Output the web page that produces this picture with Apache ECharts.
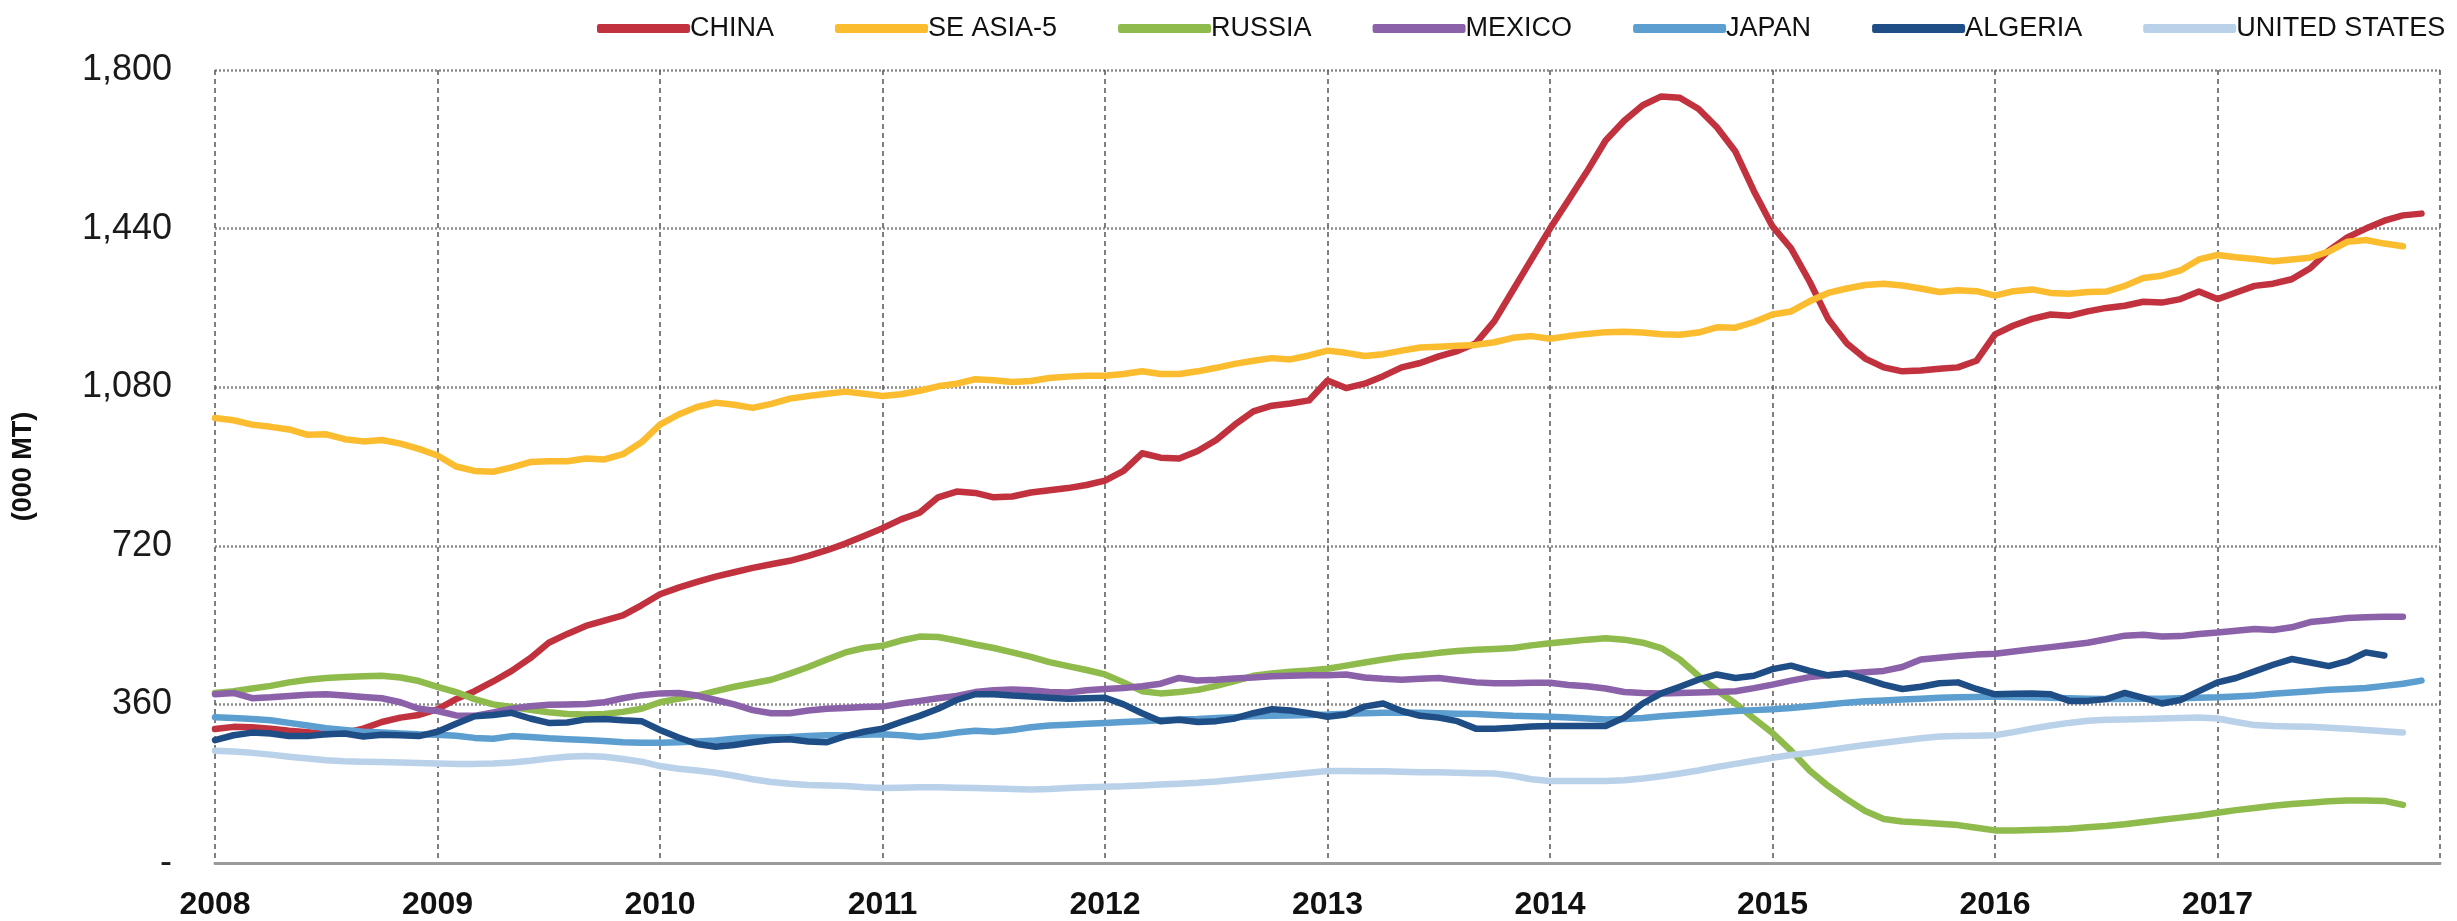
<!DOCTYPE html>
<html>
<head>
<meta charset="utf-8">
<title>Imports (000 MT)</title>
<script src="https://cdn.jsdelivr.net/npm/echarts@6/dist/echarts.min.js"></script>
<style>
  html, body { margin: 0; padding: 0; background: #fff; }
  #chart { width: 2457px; height: 921px; }
</style>
</head>
<body>
<div id="chart"></div>
<script>
// monthly readings, Jan 2008 .. Dec 2017 (000 MT)
const years = [2008, 2009, 2010, 2011, 2012, 2013, 2014, 2015, 2016, 2017]
const yTicks = [0, 360, 720, 1080, 1440, 1800]

const china = [
  304, 309, 308, 305, 300, 297, 293, 295, 305, 320, 330, 336,
  349, 372, 390, 412, 436, 465, 500, 520, 538, 550, 562, 585,
  610, 625, 638, 650, 660, 670, 678, 686, 697, 710, 725, 742,
  760, 780, 795, 830, 843, 840, 830, 832, 841, 846, 851, 858,
  868, 890, 930, 920, 918, 935, 960, 995, 1025, 1038, 1043, 1050,
  1095, 1078, 1088, 1105, 1125, 1135, 1150, 1162, 1180, 1230, 1300, 1370,
  1440, 1505, 1570, 1640, 1685, 1720, 1740, 1737, 1712, 1670, 1615, 1525,
  1445, 1395, 1320, 1235, 1180, 1145, 1125, 1116, 1118, 1122, 1125, 1140,
  1200, 1220, 1235, 1245, 1242, 1252, 1260, 1265, 1274, 1272, 1280, 1297,
  1280, 1295, 1310, 1315, 1325, 1350, 1390, 1420, 1440, 1458, 1470, 1474
]
const seAsia5 = [
  1010, 1005, 995, 990, 984, 972, 973, 962, 957, 960, 952, 940,
  925, 900, 890, 888, 898, 910, 912, 912, 918, 916, 928, 955,
  995, 1018, 1035, 1045, 1040, 1033, 1042, 1054, 1060, 1065, 1070, 1065,
  1060, 1064, 1072, 1082, 1088, 1098, 1096, 1092, 1094, 1101, 1104, 1106,
  1106, 1110, 1116, 1110, 1110, 1116, 1124, 1133, 1140, 1146, 1143, 1152,
  1163, 1158, 1151, 1155, 1163, 1170, 1172, 1174, 1176, 1182, 1192, 1196,
  1190, 1196, 1201, 1205, 1206, 1204, 1200, 1199, 1204, 1216, 1215, 1228,
  1245, 1252, 1275, 1294, 1304, 1312, 1315, 1311, 1304, 1296, 1300, 1298,
  1288, 1298, 1302, 1294, 1292, 1296, 1297, 1310, 1328, 1333, 1345, 1370,
  1380, 1375, 1371, 1366, 1370, 1374, 1388, 1410, 1414, 1406, 1400, null
]
const russia = [
  386, 390, 396, 402, 410, 416, 420, 422, 424, 425, 421, 413,
  400, 388, 372, 360, 354, 348, 342, 338, 337, 338, 343, 350,
  365, 373, 380, 390, 400, 408, 416, 430, 445, 462, 478, 488,
  493, 505, 514, 513, 505, 496, 488, 478, 468, 456, 447, 438,
  428, 410, 390, 385, 388, 393, 402, 413, 425, 430, 434, 437,
  441, 448, 455, 462, 468, 472, 477, 481, 484, 486, 488, 494,
  499, 503, 507, 510, 507, 500, 488, 462, 425, 392, 362, 328,
  295, 255, 210, 175, 145, 118, 100, 94, 92, 89, 86, 80,
  74, 74, 75, 76, 78, 81, 84, 88, 93, 98, 103, 108,
  114, 120, 125, 130, 134, 137, 140, 142, 142, 141, 132, null
]
const mexico = [
  383, 386, 374, 376, 379, 382, 383, 380, 377, 374, 365, 350,
  345, 335, 334, 342, 350, 356, 359, 360, 361, 365, 374, 381,
  385, 386, 380, 370, 360, 347, 340, 340, 346, 350, 352, 354,
  355, 362, 368, 374, 379, 388, 392, 394, 392, 388, 387, 392,
  395, 397, 401, 407, 420, 414, 416, 419, 421, 424, 425, 426,
  426, 428, 421, 418, 416, 418, 420, 415, 410, 408, 408, 409,
  409, 404, 401, 396, 388, 386, 385, 386, 387, 388, 390, 397,
  405, 414, 422, 426, 430, 433, 436, 445, 462, 466, 470, 473,
  475, 480, 485, 490, 495, 500, 508, 516, 518, 514, 515, 520,
  523, 527, 531, 529, 535, 547, 551, 556, 558, 559, 559, null
]
const japan = [
  331, 329, 327, 324, 318, 312, 306, 302, 298, 296, 294, 292,
  291, 289, 284, 282, 288, 286, 283, 281, 279, 277, 274, 273,
  273, 274, 276, 278, 282, 285, 285, 286, 288, 290, 290, 291,
  292, 290, 286, 290, 296, 300, 298, 302, 308, 312, 314, 316,
  318, 320, 322, 324, 326, 327, 329, 331, 333, 334, 335, 336,
  337, 339, 340, 341, 341, 341, 340, 339, 338, 336, 334, 333,
  332, 330, 328, 326, 327, 329, 333, 336, 339, 342, 345, 347,
  349, 352, 356, 360, 364, 367, 369, 371, 373, 375, 376, 377,
  378, 377, 376, 375, 374, 373, 372, 372, 373, 373, 374, 375,
  376, 378, 380, 384, 387, 390, 393, 395, 397, 402, 407, 414
]
const algeria = [
  279, 290, 296, 294, 288, 288, 292, 294, 287, 291, 290, 288,
  298, 316, 333, 336, 341, 328, 318, 319, 326, 327, 324, 322,
  302, 285, 270, 264, 268, 274, 279, 281, 276, 274, 288, 298,
  305, 320, 334, 350, 370, 383, 383, 380, 378, 375, 373, 374,
  375, 360, 340, 322, 325, 320, 322, 328, 340, 349, 346, 340,
  332, 337, 355, 362, 345, 334, 330, 322, 305, 305, 307, 310,
  311, 311, 311, 311, 330, 362, 385, 400, 416, 428, 420, 425,
  440, 448, 436, 426, 430, 418, 405, 395, 400, 408, 410, 395,
  383, 384, 385, 383, 368, 368, 372, 386, 375, 362, 370, 390,
  410, 420, 435, 450, 463, 455, 447, 458, 478, 471, null, null
]
const unitedStates = [
  255, 253, 250, 246, 241, 237, 233, 231, 230, 229, 228, 227,
  226, 225, 225, 226, 228, 232, 237, 241, 243, 241, 236, 230,
  220, 214, 210, 205, 198, 190, 184, 180, 177, 176, 175, 172,
  170, 171, 172, 172, 171, 170, 169, 168, 167, 168, 170, 172,
  173, 174, 176, 178, 180, 182, 185, 189, 193, 197, 201, 205,
  209, 209, 208, 208, 207, 206, 206, 205, 204, 203, 198, 190,
  186, 186, 186, 186, 188, 192, 197, 203, 210, 218, 225, 232,
  239, 245, 250, 256, 262, 268, 273, 278, 283, 287, 288, 289,
  290, 297, 305, 312, 318, 323, 325, 326, 327, 328, 329, 330,
  328, 320, 313, 311, 310, 309, 307, 305, 302, 299, 296, null
]

// month categories, plus Jan 2018 as the right edge
const months = []
years.forEach(function(y) {
  for (let m = 1; m <= 12; m++) months.push(y + '-' + (m < 10 ? '0' + m : m))
})
months.push('2018-01')

const seriesList = [
  { name: 'CHINA', data: china, color: '#c1313e' },
  { name: 'SE ASIA-5', data: seAsia5, color: '#fbbd2f' },
  { name: 'RUSSIA', data: russia, color: '#8fbb4c' },
  { name: 'MEXICO', data: mexico, color: '#8b61a9' },
  { name: 'JAPAN', data: japan, color: '#5b9ecf' },
  { name: 'ALGERIA', data: algeria, color: '#1f4d86' },
  { name: 'UNITED STATES', data: unitedStates, color: '#bad1ea' }
]

const chart = echarts.init(document.getElementById('chart'))
chart.setOption({
  backgroundColor: '#fff',
  animation: false,
  legend: {
    left: 592,
    top: 10,
    width: 1865,
    itemWidth: 93,
    itemHeight: 9,
    itemGap: 61,
    icon: 'roundRect',
    textStyle: {
      fontFamily: 'Liberation Sans Narrow, Liberation Sans, Arial',
      fontSize: 27,
      color: '#111',
      padding: [0, 0, 0, -5]
    },
    data: seriesList.map(s => s.name)
  },
  grid: {
    left: 215,
    right: 17,
    top: 70,
    bottom: 58
  },
  xAxis: {
    type: 'category',
    boundaryGap: false,
    data: months,
    axisLine: {
      show: true,
      lineStyle: { color: '#9a9a9a', width: 3 }
    },
    axisTick: { show: false },
    axisLabel: {
      interval: function(i) { return i % 12 === 0 && i < 120 },
      formatter: v => v.slice(0, 4),
      margin: 26,
      fontFamily: 'Liberation Sans Narrow, Liberation Sans, Arial',
      fontWeight: 'bold',
      fontSize: 32,
      color: '#111'
    },
    splitLine: {
      show: true,
      interval: function(i) { return i % 12 === 0 },
      lineStyle: { color: '#555', width: 1.5, type: [5, 4] }
    }
  },
  yAxis: {
    type: 'value',
    min: yTicks[0],
    max: yTicks[yTicks.length - 1],
    interval: yTicks[1] - yTicks[0],
    name: '(000 MT)',
    nameLocation: 'middle',
    nameRotate: 90,
    nameGap: 178,
    nameTextStyle: {
      fontFamily: 'Liberation Sans, Arial',
      fontWeight: 'bold',
      fontSize: 27,
      color: '#111'
    },
    axisLine: { show: false },
    axisTick: { show: false },
    axisLabel: {
      margin: 43,
      fontFamily: 'Liberation Sans, Arial',
      fontSize: 36,
      color: '#1a1a1a',
      formatter: v => v === 0 ? '-' : v.toLocaleString('en-US')
    },
    splitLine: {
      show: true,
      lineStyle: { color: '#8c8c8c', width: 2.5, type: [2, 2] }
    }
  },
  series: seriesList.map(s => ({
    name: s.name,
    type: 'line',
    data: s.data,
    showSymbol: false,
    symbol: 'none',
    connectNulls: false,
    itemStyle: { color: s.color },
    lineStyle: { color: s.color, width: 6.5, cap: 'round', join: 'round' }
  }))
})
</script>
</body>
</html>
